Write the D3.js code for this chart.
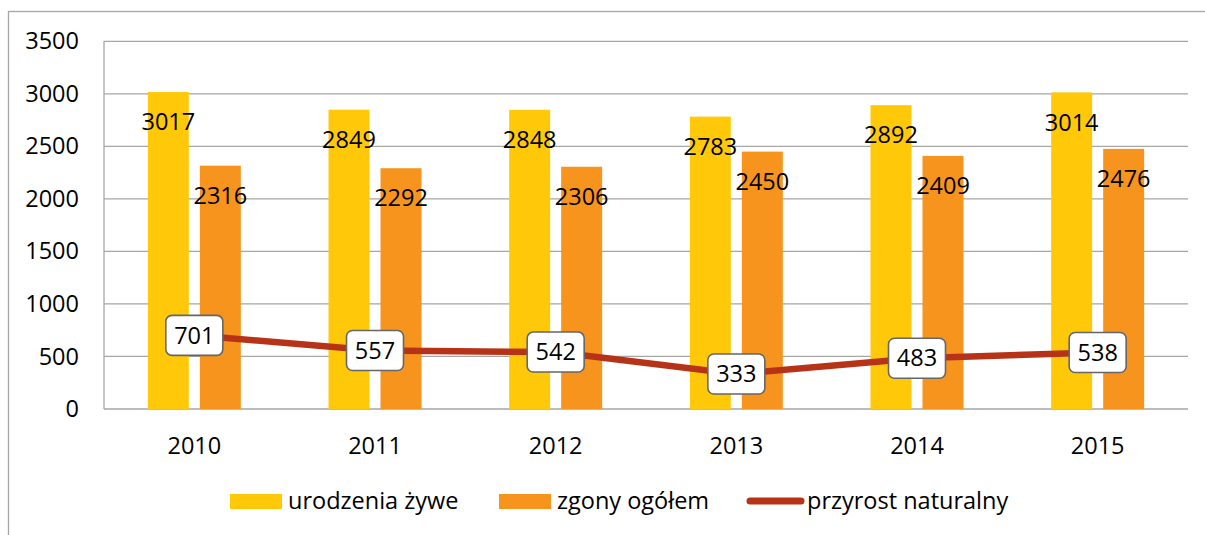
<!DOCTYPE html>
<html lang="pl">
    <head>
        <meta charset="utf-8">
        <title>Urodzenia i zgony</title>
        <script type="text/javascript" src="https://d3js.org/d3.v7.min.js"></script>
        <style type="text/css">
            body { margin: 0; background: #fff; }
            svg text { font-family: "Open Sans", "Lato", sans-serif; fill: #000; }
            .axis text { font-size: 23.5px; font-family: "Open Sans", sans-serif; }
        </style>
    </head>
    <body>
    <script type="text/javascript">

        // data
        const years = ["2010", "2011", "2012", "2013", "2014", "2015"];
        const births = [3017, 2849, 2848, 2783, 2892, 3014];
        const deaths = [2316, 2292, 2306, 2450, 2409, 2476];
        const growth = [701, 557, 542, 333, 483, 538];
        const seriesNames = ["urodzenia żywe", "zgony ogółem", "przyrost naturalny"];
        const yTicks = [0, 500, 1000, 1500, 2000, 2500, 3000, 3500];

        const width = 1205;
        const height = 535;
        const plotLeft = 104, plotRight = 1188, plotTop = 41.3, plotBottom = 409;
        const colors = ["#FFC90A", "#F7941E", "#B63318"];
        const fontSize = "23.5px";

        const svg = d3.select("body")
                    .append("svg")
                    .attr("width", width)
                    .attr("height", height);

        // outer frame
        svg.append("rect")
            .attr("x", 8.5).attr("y", 11.5)
            .attr("width", 1220).attr("height", 540)
            .attr("fill", "none")
            .attr("stroke", "#A6A6A6")
            .attr("stroke-width", 1.3);

        const xScale = d3.scaleBand()
                        .domain(years)
                        .range([plotLeft, plotRight]);

        const inner = d3.scaleBand()
                        .domain([0, 1])
                        .range([0, xScale.bandwidth()])
                        .paddingInner(0.212)
                        .paddingOuter(0.843);

        const yScale = d3.scaleLinear()
                        .domain([0, 3500])
                        .range([plotBottom, plotTop]);

        // gridlines
        svg.append("g")
            .selectAll("line")
            .data(yTicks)
            .enter()
            .append("line")
            .attr("x1", plotLeft).attr("x2", plotRight)
            .attr("y1", d => yScale(d)).attr("y2", d => yScale(d))
            .attr("stroke", "#A6A6A6")
            .attr("stroke-width", 1.3);

        svg.append("line")
            .attr("x1", plotLeft).attr("x2", plotLeft)
            .attr("y1", plotTop).attr("y2", plotBottom)
            .attr("stroke", "#A6A6A6")
            .attr("stroke-width", 1.3);

        // left axis labels
        const leftAxis = d3.axisLeft(yScale).tickValues(yTicks).tickFormat(d3.format("d")).tickSize(0).tickPadding(25);
        svg.append("g")
            .attr("class", "axis")
            .attr("transform", "translate(" + plotLeft + ",0)")
            .call(leftAxis)
            .call(g => g.select(".domain").remove());

        // bottom axis labels
        const bottomAxis = d3.axisBottom(xScale).tickSize(0).tickPadding(28);
        svg.append("g")
            .attr("class", "axis")
            .attr("transform", "translate(0," + plotBottom + ")")
            .call(bottomAxis)
            .call(g => g.select(".domain").remove());

        // bars
        [births, deaths].forEach((vals, s) => {
            svg.append("g")
                .selectAll("rect")
                .data(vals)
                .enter()
                .append("rect")
                .attr("x", (d, i) => xScale(years[i]) + inner(s))
                .attr("y", d => yScale(d))
                .attr("width", inner.bandwidth())
                .attr("height", d => plotBottom - yScale(d))
                .attr("fill", colors[s]);

            svg.append("g")
                .selectAll("text")
                .data(vals)
                .enter()
                .append("text")
                .text(d => d)
                .attr("x", (d, i) => xScale(years[i]) + inner(s) + inner.bandwidth() / 2)
                .attr("y", d => yScale(d) + 30)
                .attr("dy", "0.35em")
                .attr("font-size", fontSize)
                .attr("text-anchor", "middle");
        });

        // line
        const cx = (d, i) => xScale(years[i]) + xScale.bandwidth() / 2;
        const line = d3.line()
                    .x(cx)
                    .y(d => yScale(d));

        svg.append("path")
            .datum(growth)
            .attr("d", line)
            .attr("fill", "none")
            .attr("stroke", colors[2])
            .attr("stroke-width", 6.5);

        // labels on line
        const boxes = svg.append("g")
                        .selectAll("g")
                        .data(growth)
                        .enter()
                        .append("g")
                        .attr("transform", (d, i) => "translate(" + cx(d, i) + "," + yScale(d) + ")");

        boxes.append("rect")
            .attr("x", -28.5).attr("y", -20)
            .attr("width", 57).attr("height", 40)
            .attr("rx", 6)
            .attr("fill", "#fff")
            .attr("stroke", "#666")
            .attr("stroke-width", 1.6);

        boxes.append("text")
            .text(d => d)
            .attr("dy", "0.35em")
            .attr("font-size", fontSize)
            .attr("text-anchor", "middle");

        // legend
        const legendX = [230, 499, 747];
        const legend = svg.append("g")
                        .selectAll("g")
                        .data(seriesNames)
                        .enter()
                        .append("g")
                        .attr("transform", (d, i) => "translate(" + legendX[i] + ",501.5)");

        legend.filter((d, i) => i < 2)
            .append("rect")
            .attr("x", 0).attr("y", -7.5)
            .attr("width", 52).attr("height", 15)
            .attr("fill", (d, i) => colors[i]);

        legend.filter((d, i) => i === 2)
            .append("line")
            .attr("x1", 3).attr("x2", 54)
            .attr("y1", -0.5).attr("y2", -0.5)
            .attr("stroke", colors[2])
            .attr("stroke-width", 7)
            .attr("stroke-linecap", "round");

        legend.append("text")
            .text(d => d)
            .attr("x", (d, i) => i === 2 ? 60 : 58)
            .attr("dy", "0.33em")
            .attr("font-size", fontSize);

    </script>
    </body>
</html>
